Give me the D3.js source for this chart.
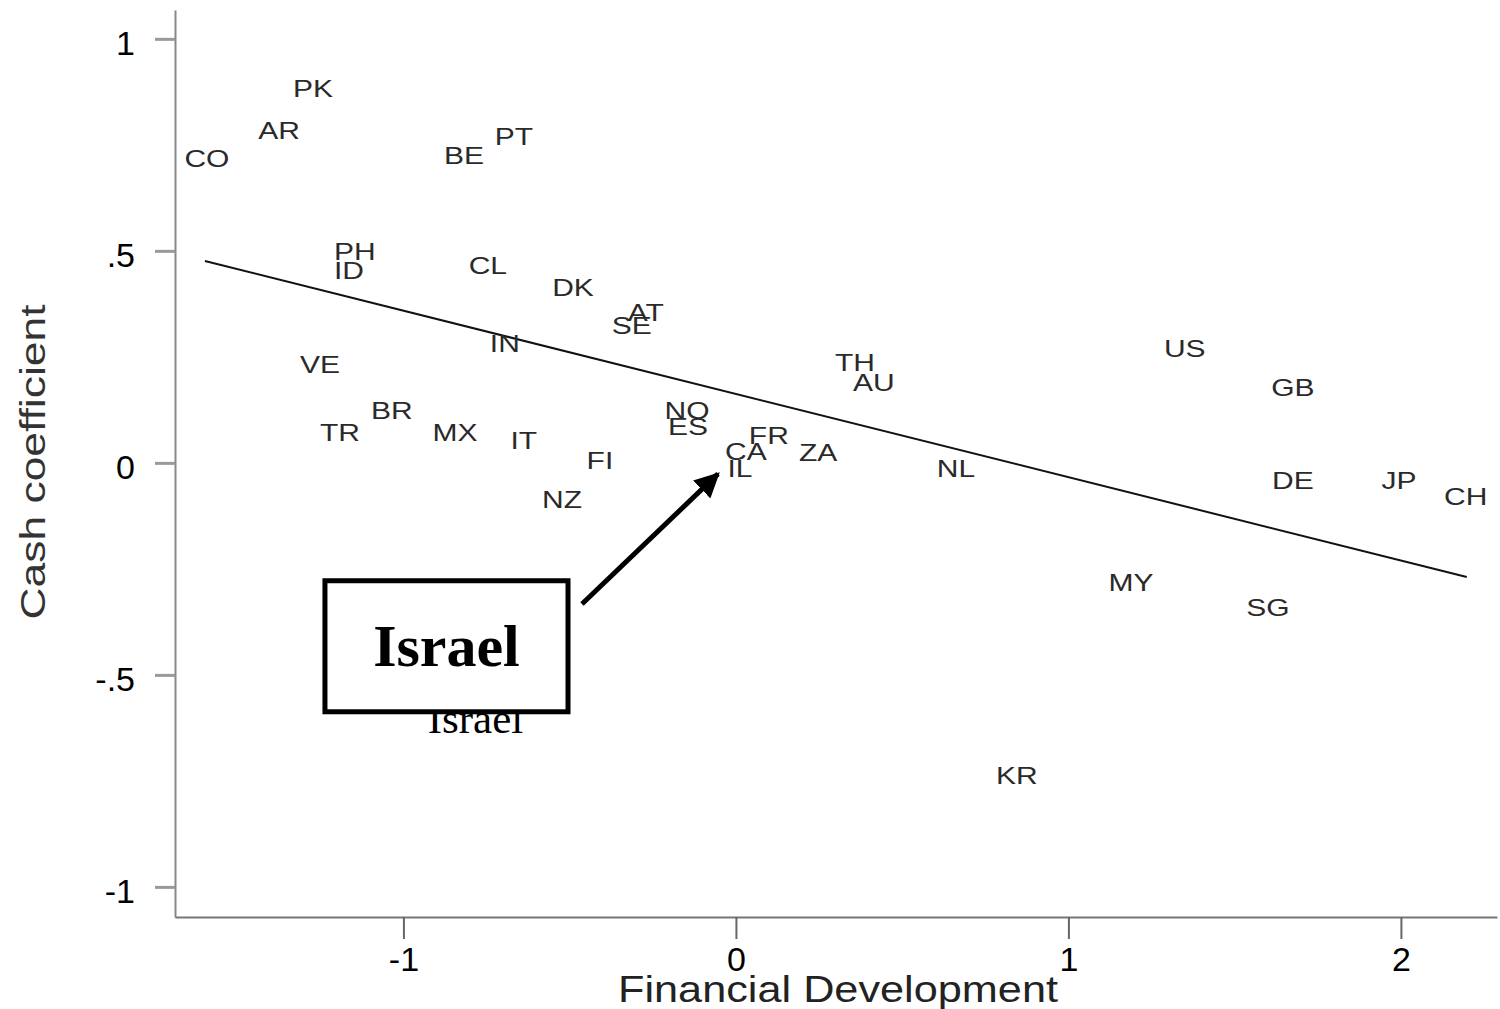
<!DOCTYPE html>
<html>
<head>
<meta charset="utf-8">
<script src="https://cdn.jsdelivr.net/npm/d3@7"></script>
<style>
  body { margin: 0; background: #fff; }
  svg { display: block; font-family: Arial, "Liberation Sans", sans-serif; }
</style>
</head>
<body>
<div id="main"></div>
<script>
// country codes and values
const codes = ["CO","AR","PK","BE","PT","PH","ID","CL","DK","AT","SE","IN","VE","TH","AU","US","GB",
  "BR","TR","MX","IT","NO","ES","FR","CA","IL","ZA","FI","NL","NZ","DE","JP","CH","MY","SG","KR"];
const finDev = [-1.591,-1.374,-1.272,-0.818,-0.668,-1.146,-1.164,-0.746,-0.490,-0.271,-0.313,-0.695,-1.251,0.358,0.415,1.350,1.675,
  -1.035,-1.191,-0.845,-0.638,-0.147,-0.144,0.099,0.030,0.012,0.247,-0.409,0.662,-0.523,1.675,1.994,2.195,1.188,1.600,0.845];
const cashCoef = [0.717,0.783,0.884,0.726,0.769,0.498,0.455,0.465,0.413,0.354,0.325,0.283,0.233,0.238,0.189,0.269,0.179,
  0.123,0.073,0.073,0.054,0.125,0.087,0.066,0.026,-0.014,0.024,0.005,-0.012,-0.087,-0.042,-0.042,-0.078,-0.281,-0.340,-0.736];

// fitted line end points
const fitX = [-1.597, 2.198];
const fitY = [0.476, -0.269];

const xTicks = [-1, 0, 1, 2];
const xTickLabels = ["-1", "0", "1", "2"];
const yTicks = [-1, -0.5, 0, 0.5, 1];
const yTickLabels = ["-1", "-.5", "0", ".5", "1"];

// annotation (data units)
const boxX = [-1.236, -0.505];
const boxY = [-0.278, -0.587];
const arrowX = [-0.463, -0.054];
const arrowY = [-0.333, -0.026];

const margin = {top: 10, right: 3, bottom: 92, left: 175};
const W = 1500, H = 1009;
const width = W - margin.left - margin.right;
const height = H - margin.top - margin.bottom;

const x = d3.scaleLinear().domain([-1.687, 2.289]).range([0, width]);
const y = d3.scaleLinear().domain([-1.071, 1.068]).range([height, 0]);

const svg = d3.select("#main").append("svg")
  .attr("width", W).attr("height", H);

const g = svg.append("g")
  .attr("transform", "translate(" + margin.left + "," + margin.top + ")");

svg.append("defs").append("marker")
  .attr("id", "head")
  .attr("viewBox", "0 0 10 10")
  .attr("refX", 9).attr("refY", 5)
  .attr("markerWidth", 5).attr("markerHeight", 5)
  .attr("markerUnits", "strokeWidth")
  .attr("orient", "auto")
  .append("path").attr("d", "M0,0 L10,5 L0,10 z").attr("fill", "#000");

// axes
const yAxis = d3.axisLeft(y).tickValues(yTicks).tickSize(20).tickSizeOuter(0).tickPadding(20)
  .tickFormat((d, i) => yTickLabels[i]);
const xAxis = d3.axisBottom(x).tickValues(xTicks).tickSize(22).tickSizeOuter(0).tickPadding(8)
  .tickFormat((d, i) => xTickLabels[i]);

const ya = g.append("g").call(yAxis);
ya.select(".domain").attr("stroke", "#888").attr("stroke-width", 2);
ya.selectAll(".tick line").attr("stroke", "#999").attr("stroke-width", 3);
ya.selectAll(".tick text").attr("font-size", 34).attr("fill", "#000").attr("dy", "0.45em");

const xa = g.append("g").attr("transform", "translate(0," + height + ")").call(xAxis);
xa.select(".domain").attr("stroke", "#777").attr("stroke-width", 2);
xa.selectAll(".tick line").attr("stroke", "#666").attr("stroke-width", 2);
xa.selectAll(".tick text").attr("font-size", 34).attr("fill", "#000");

// axis titles
svg.append("text")
  .attr("transform", "translate(45,462) rotate(-90)")
  .attr("text-anchor", "middle")
  .attr("font-size", 35)
  .attr("fill", "#333")
  .attr("textLength", 315).attr("lengthAdjust", "spacingAndGlyphs")
  .text("Cash coefficient");

svg.append("text")
  .attr("x", 838).attr("y", 1002)
  .attr("text-anchor", "middle")
  .attr("font-size", 36)
  .attr("fill", "#222")
  .attr("textLength", 440).attr("lengthAdjust", "spacingAndGlyphs")
  .text("Financial Development");

// fitted line
g.append("path")
  .datum(d3.zip(fitX, fitY))
  .attr("d", d3.line().x(d => x(d[0])).y(d => y(d[1])))
  .attr("stroke", "#111").attr("stroke-width", 2).attr("fill", "none");

// country labels
const pts = codes.map((c, i) => ({code: c, fx: finDev[i], cy: cashCoef[i]}));
g.selectAll("text.lbl")
  .data(pts)
  .enter()
  .append("text")
  .attr("class", "lbl")
  .attr("transform", d => "translate(" + x(d.fx) + "," + y(d.cy) + ") scale(1.25,1)")
  .attr("text-anchor", "middle")
  .attr("dy", "0.36em")
  .attr("font-size", 24)
  .attr("fill", "#2a2a2a")
  .text(d => d.code);

// Israel annotation
g.append("text")
  .attr("x", (x(boxX[0]) + x(boxX[1])) / 2 + 29)
  .attr("y", y(boxY[1]) + 21)
  .attr("text-anchor", "middle")
  .attr("font-family", "'Liberation Serif', 'Times New Roman', serif")
  .attr("font-size", 43)
  .attr("fill", "#000")
  .text("Israel");

g.append("rect")
  .attr("x", x(boxX[0])).attr("y", y(boxY[0]))
  .attr("width", x(boxX[1]) - x(boxX[0]))
  .attr("height", y(boxY[1]) - y(boxY[0]))
  .attr("fill", "#fff").attr("stroke", "#000").attr("stroke-width", 5);

g.append("text")
  .attr("x", (x(boxX[0]) + x(boxX[1])) / 2)
  .attr("y", (y(boxY[0]) + y(boxY[1])) / 2 + 20)
  .attr("text-anchor", "middle")
  .attr("font-family", "'Liberation Serif', 'Times New Roman', serif")
  .attr("font-weight", "bold")
  .attr("font-size", 60)
  .attr("fill", "#000")
  .text("Israel");

g.append("line")
  .attr("x1", x(arrowX[0])).attr("y1", y(arrowY[0]))
  .attr("x2", x(arrowX[1])).attr("y2", y(arrowY[1]))
  .attr("stroke", "#000").attr("stroke-width", 5)
  .attr("marker-end", "url(#head)");
</script>
</body>
</html>
